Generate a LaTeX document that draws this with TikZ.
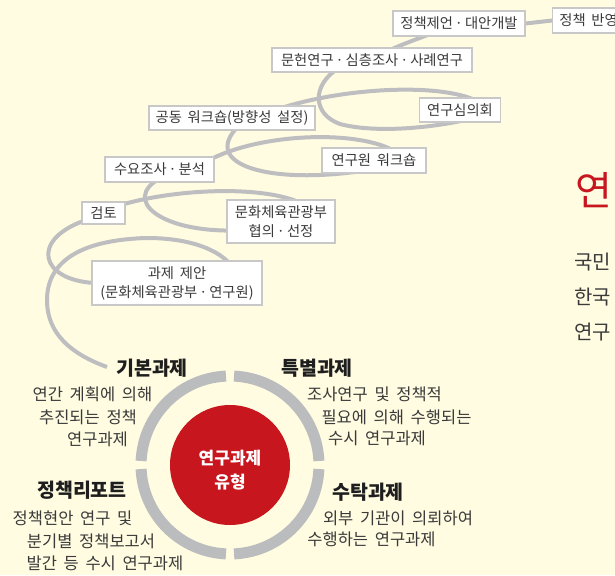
\documentclass[tikz,border=0pt]{standalone}
\usepackage{fontspec}
\newfontfamily\kr{Noto Sans CJK KR}
\newfontfamily\krd[WordSpace=1.8]{Noto Sans CJK KR}
\newcommand\md{\hspace{3.5pt}\makebox[5pt]{·}\hspace{3.5pt}}
\definecolor{bgc}{RGB}{255,252,225}
\definecolor{boxline}{RGB}{200,200,200}
\definecolor{flowgray}{RGB}{190,190,192}
\definecolor{ringgray}{RGB}{187,188,190}
\definecolor{redc}{RGB}{200,22,30}
\definecolor{txt}{RGB}{58,58,58}
\definecolor{headc}{RGB}{30,30,30}
\pgfdeclarelayer{bg}
\pgfsetlayers{bg,main}
\begin{document}
\begin{tikzpicture}[x=1pt,y=-1pt,
  box/.style={draw=boxline,fill=white,line width=1.1pt,inner sep=0pt,align=center,text=txt,font=\kr\fontsize{14.3}{19}\selectfont},
  flow/.style={draw=flowgray,line width=4pt},
  head/.style={font=\krd\bfseries\fontsize{19.5}{21}\selectfont,text=headc,inner sep=2pt},
  desc/.style={font=\krd\fontsize{16.5}{20}\selectfont,text=txt,inner sep=0pt},
  ringarc/.style={draw=ringgray,line width=11pt},
  side/.style={anchor=west,font=\kr\fontsize{20}{20}\selectfont,text=txt,inner sep=0pt}]
\useasboundingbox (0,0) rectangle (615,575);
\clip (0,0) rectangle (615,575);

% boxes
\node[box,anchor=west,minimum width=72pt,minimum height=25pt] (p1) at (552,20.5) {정책 반영};
\node[box,minimum width=132pt,minimum height=25pt] (p2) at (459,23.5) {정책제언\md 대안개발};
\node[box,minimum width=200pt,minimum height=24pt] (p3) at (372,60) {문헌연구\md 심층조사\md 사례연구};
\node[box,minimum width=81pt,minimum height=24pt] (p4) at (460,110) {연구심의회};
\node[box,minimum width=166pt,minimum height=24pt] (p5) at (232,118) {공동 워크숍(방향성 설정)};
\node[box,minimum width=104pt,minimum height=25pt] (p6) at (374,160.5) {연구원 워크숍};
\node[box,minimum width=109pt,minimum height=25pt] (p7) at (159.5,169.5) {수요조사\md 분석};
\node[box,minimum width=43pt,minimum height=22pt] (p8) at (103.5,213) {검토};
\node[box,minimum width=108pt,minimum height=43pt] (p9) at (281,221.5) {문화체육관광부\\협의\md 선정};
\node[box,minimum width=170pt,minimum height=44pt] (p10) at (177,283) {과제 제안\\(문화체육관광부\md 연구원)};

% headings
\node[head] (h1) at (152,368) {기본과제};
\node[head] (h2) at (317,368) {특별과제};
\node[head] (h3) at (82,490) {정책리포트};
\node[head] (h4) at (368,492) {수탁과제};
\coordinate (c0) at (107,367);

% descriptions
\node[desc] (d1a) at (92.5,394) {연간 계획에 의해};
\node[desc] (d1b) at (88,417) {추진되는 정책};
\node[desc] (d1c) at (97.5,439) {연구과제};
\node[desc] (d2a) at (374.5,394) {조사연구 및 정책적};
\node[desc] (d2b) at (396.5,417) {필요에 의해 수행되는};
\node[desc] (d2c) at (377,438) {수시 연구과제};
\node[desc] (d3a) at (72.5,518) {정책현안 연구 및};
\node[desc] (d3b) at (91,541) {분기별 정책보고서};
\node[desc] (d3c) at (105,563) {발간 등 수시 연구과제};
\node[desc] (d4a) at (398,518) {외부 기관이 의뢰하여};
\node[desc] (d4b) at (371.5,539) {수행하는 연구과제};

% core
\node[circle,fill=redc,minimum size=120pt,inner sep=0pt] (core) at (230,465) {};
\node[text=white,align=center,inner sep=0pt,font=\kr\bfseries\fontsize{17}{24}\selectfont] (coretxt) at (230,470) {연구과제\\유형};

% ring
\draw[ringarc] (core.center) ++(2.6:89pt) arc[start angle=2.6,end angle=87.4,radius=89pt];
\draw[ringarc] (core.center) ++(92.6:89pt) arc[start angle=92.6,end angle=177.4,radius=89pt];
\draw[ringarc] (core.center) ++(182.6:89pt) arc[start angle=182.6,end angle=267.4,radius=89pt];
\draw[ringarc] (core.center) ++(272.6:89pt) arc[start angle=272.6,end angle=357.4,radius=89pt];

% right side partial text
\node[anchor=west,font=\kr\fontsize{40}{40}\selectfont,text=redc,inner sep=0pt] (t0) at (575,190) {연};
\node[side] (t1) at (574,262) {국민};
\node[side] (t2) at (574,297) {한국};
\node[side] (t3) at (574,332) {연구};

\begin{pgfonlayer}{bg}
\fill[bgc] (0,0) rectangle (615,575);
\draw[flow] (c0) .. controls (60,350) and (47,325) .. (47,300)
  .. controls (47,265) and (75,240) .. (147,238)
  .. controls (190,238) and (220,250) .. ([xshift=55pt,yshift=-6pt]p10.north);
\draw[flow] ([xshift=3pt]p10.west) .. controls (40,280) and (30,240) .. ([xshift=3pt,yshift=4pt]p8.south west);
\draw[flow] ([xshift=-3pt,yshift=-3pt]p8.north east) .. controls (180,188) and (270,185) .. ([xshift=-30pt,yshift=-6pt]p9.north east);
\draw[flow] ([xshift=8pt,yshift=-9pt]p9.west) .. controls (160,232) and (122,200) .. ([yshift=4pt]p7.south);
\draw[flow] ([xshift=-8pt,yshift=-5pt]p7.north east) .. controls (260,132) and (360,130) .. ([xshift=21pt,yshift=-4pt]p6.north);
\draw[flow] ([xshift=-9pt,yshift=3pt]p6.south) .. controls (270,185) and (200,165) .. ([xshift=6pt,yshift=4pt]p5.south);
\draw[flow] ([xshift=45pt,yshift=-4pt]p5.north) .. controls (340,88) and (440,82) .. ([xshift=18pt,yshift=-4pt]p4.north);
\draw[flow] ([xshift=8pt,yshift=3pt]p4.south) .. controls (420,130) and (370,132) .. (340,124)
  .. controls (312,114) and (312,85) .. ([xshift=-34pt,yshift=4pt]p3.south);
\draw[flow] ([xshift=15pt,yshift=-4pt]p3.north) .. controls (400,45) and (420,38) .. ([xshift=-25pt,yshift=4pt]p2.south);
\draw[flow] (p2.east) -- (p1.west);
\end{pgfonlayer}
\end{tikzpicture}
\end{document}
